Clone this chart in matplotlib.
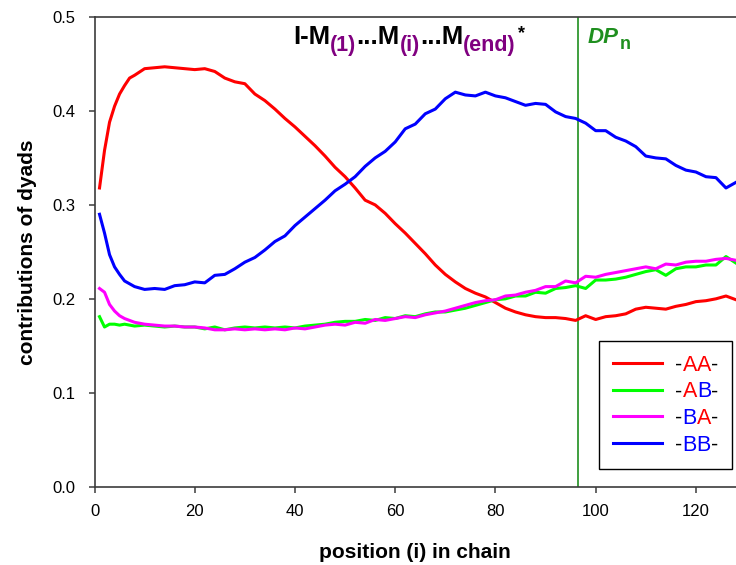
import matplotlib
matplotlib.use('Agg')
import matplotlib.pyplot as plt

plt.rcParams['font.family'] = ['Liberation Sans', 'DejaVu Sans']

# position in chain (i)
position = [1, 2, 3, 4, 5, 6, 7, 8] + list(range(10, 129, 2))

# contributions of dyads
aa = [0.318, 0.358, 0.388, 0.405, 0.418, 0.427, 0.435, 0.438,
      0.445, 0.446, 0.447, 0.446, 0.445, 0.444, 0.445, 0.442, 0.435, 0.431,
      0.429, 0.418, 0.411, 0.402, 0.392, 0.383, 0.373, 0.363, 0.352, 0.340,
      0.330, 0.318, 0.305, 0.300, 0.291, 0.280, 0.270, 0.259, 0.248, 0.236,
      0.226, 0.218, 0.211, 0.206, 0.202, 0.196, 0.190, 0.186, 0.183, 0.181,
      0.180, 0.180, 0.179, 0.177, 0.182, 0.178, 0.181, 0.182, 0.184, 0.189,
      0.191, 0.190, 0.189, 0.192, 0.194, 0.197, 0.198, 0.200, 0.203, 0.199]
ab = [0.181, 0.170, 0.173, 0.173, 0.172, 0.173, 0.172, 0.171,
      0.172, 0.171, 0.170, 0.171, 0.170, 0.170, 0.168, 0.170, 0.167, 0.169,
      0.170, 0.169, 0.170, 0.169, 0.170, 0.169, 0.171, 0.172, 0.173, 0.175,
      0.176, 0.176, 0.178, 0.177, 0.180, 0.179, 0.182, 0.181, 0.184, 0.186,
      0.186, 0.188, 0.190, 0.193, 0.196, 0.199, 0.200, 0.203, 0.203, 0.207,
      0.206, 0.211, 0.212, 0.214, 0.211, 0.220, 0.220, 0.221, 0.223, 0.226,
      0.229, 0.231, 0.225, 0.232, 0.234, 0.234, 0.236, 0.236, 0.245, 0.238]
ba = [0.211, 0.207, 0.194, 0.187, 0.182, 0.179, 0.177, 0.175,
      0.173, 0.172, 0.171, 0.171, 0.170, 0.170, 0.169, 0.167, 0.167, 0.168,
      0.167, 0.168, 0.167, 0.168, 0.167, 0.169, 0.168, 0.170, 0.172, 0.173,
      0.172, 0.175, 0.174, 0.178, 0.177, 0.179, 0.181, 0.180, 0.183, 0.185,
      0.187, 0.190, 0.193, 0.196, 0.198, 0.199, 0.203, 0.204, 0.207, 0.209,
      0.213, 0.213, 0.219, 0.217, 0.224, 0.223, 0.226, 0.228, 0.230, 0.232,
      0.234, 0.232, 0.237, 0.236, 0.239, 0.240, 0.240, 0.242, 0.243, 0.241]
bb = [0.290, 0.270, 0.247, 0.234, 0.226, 0.219, 0.216, 0.213,
      0.210, 0.211, 0.210, 0.214, 0.215, 0.218, 0.217, 0.225, 0.226, 0.232,
      0.239, 0.244, 0.252, 0.261, 0.267, 0.278, 0.287, 0.296, 0.305, 0.315,
      0.322, 0.330, 0.341, 0.350, 0.357, 0.367, 0.381, 0.386, 0.397, 0.402,
      0.413, 0.420, 0.417, 0.416, 0.420, 0.416, 0.414, 0.410, 0.406, 0.408,
      0.407, 0.399, 0.394, 0.392, 0.387, 0.379, 0.379, 0.372, 0.368, 0.362,
      0.352, 0.350, 0.349, 0.342, 0.337, 0.335, 0.330, 0.329, 0.318, 0.324]

dp_n = 96.5  # number-average degree of polymerisation

series = [('-AA-', aa, '#ff0000'), ('-AB-', ab, '#00ff00'),
          ('-BA-', ba, '#ff00ff'), ('-BB-', bb, '#0000ff')]
letter_color = {'A': '#ff0000', 'B': '#0000ff', '-': 'black'}

fig = plt.figure(figsize=(7.36, 5.65), dpi=100)
ax = fig.add_axes([0.1284, 0.1386, 0.8716, 0.8313])

handles = []
for name, vals, col in series:
    ln, = ax.plot(position, vals, color=col, lw=2.2, label=name)
    handles.append(ln)

ax.axvline(dp_n, color='#1f8f1f', lw=1.2, zorder=1)

ax.set_xlim(0, 128)
ax.set_ylim(0, 0.5)
ax.set_xticks(range(0, 121, 20))
ax.set_yticks([0.0, 0.1, 0.2, 0.3, 0.4, 0.5])
ax.set_yticklabels(['0.0', '0.1', '0.2', '0.3', '0.4', '0.5'])
ax.spines['right'].set_visible(False)
for s in ['left', 'bottom', 'top']:
    ax.spines[s].set_color('#3c3c3c')
    ax.spines[s].set_linewidth(1.2)
ax.tick_params(axis='both', direction='out', length=4.5, width=1.1,
               color='#3c3c3c', labelsize=12)
ax.tick_params(axis='y', pad=9)
ax.tick_params(axis='x', pad=8)

ax.set_xlabel('position (i) in chain', fontsize=15, fontweight='bold')
ax.set_ylabel('contributions of dyads', fontsize=15, fontweight='bold')
ax.xaxis.set_label_coords(0.5, -0.14)
ax.xaxis.label.set_va('center')
ax.yaxis.set_label_coords(-0.104, 0.5)
ax.yaxis.label.set_va('center')

# title  I-M(1)...M(i)...M(end)*  with purple subscripts
purple = '#800080'
t = fig.text(293 / 736, 1 - 44 / 565, 'I-M', fontsize=18.5, fontweight='bold',
             va='baseline', ha='left')
for sub, main in [('(1)', '...M'), ('(i)', '...M'), ('(end)', None)]:
    s = ax.annotate(sub, xy=(1, 0), xycoords=t, xytext=(0, -1.5),
                    textcoords='offset points', va='baseline', ha='left',
                    fontsize=15.5, fontweight='bold', color=purple)
    if main is None:
        ax.annotate('*', xy=(1, 1), xycoords=(s, t), xytext=(1.5, 0),
                    textcoords='offset points', va='top', ha='left',
                    fontsize=13, fontweight='bold')
    else:
        t = ax.annotate(main, xy=(1, 0), xycoords=(s, t), va='bottom',
                        ha='left', fontsize=18.5, fontweight='bold')

dp = fig.text(588 / 736, 1 - 43 / 565, 'DP', fontsize=16, fontweight='bold',
              fontstyle='italic', color='#1f8f1f', va='baseline', ha='left')
ax.annotate('n', xy=(1, 0), xycoords=dp, xytext=(0.5, -1),
            textcoords='offset points', va='baseline', ha='left',
            fontsize=13, fontweight='bold', color='#1f8f1f')

# legend with letters coloured by monomer
leg = ax.legend(handles=handles, loc='upper left',
                bbox_to_anchor=(599 / 736, 1 - 341 / 565),
                bbox_transform=fig.transFigure, borderaxespad=0,
                fontsize=15.5, handlelength=2.28, handletextpad=0.62,
                borderpad=0.64, labelspacing=0.26, fancybox=False,
                framealpha=1, edgecolor='black')
leg.get_frame().set_linewidth(1.0)
for txt in leg.get_texts():
    label = txt.get_text()
    txt.set_alpha(0)
    prev = txt
    first = True
    for ch in label:
        prev = ax.annotate(ch, xy=(0 if first else 1, 0), xycoords=prev,
                           va='bottom', ha='left', fontsize=15.5,
                           color=letter_color[ch], zorder=6)
        first = False

fig.savefig('out.png', dpi=100)
